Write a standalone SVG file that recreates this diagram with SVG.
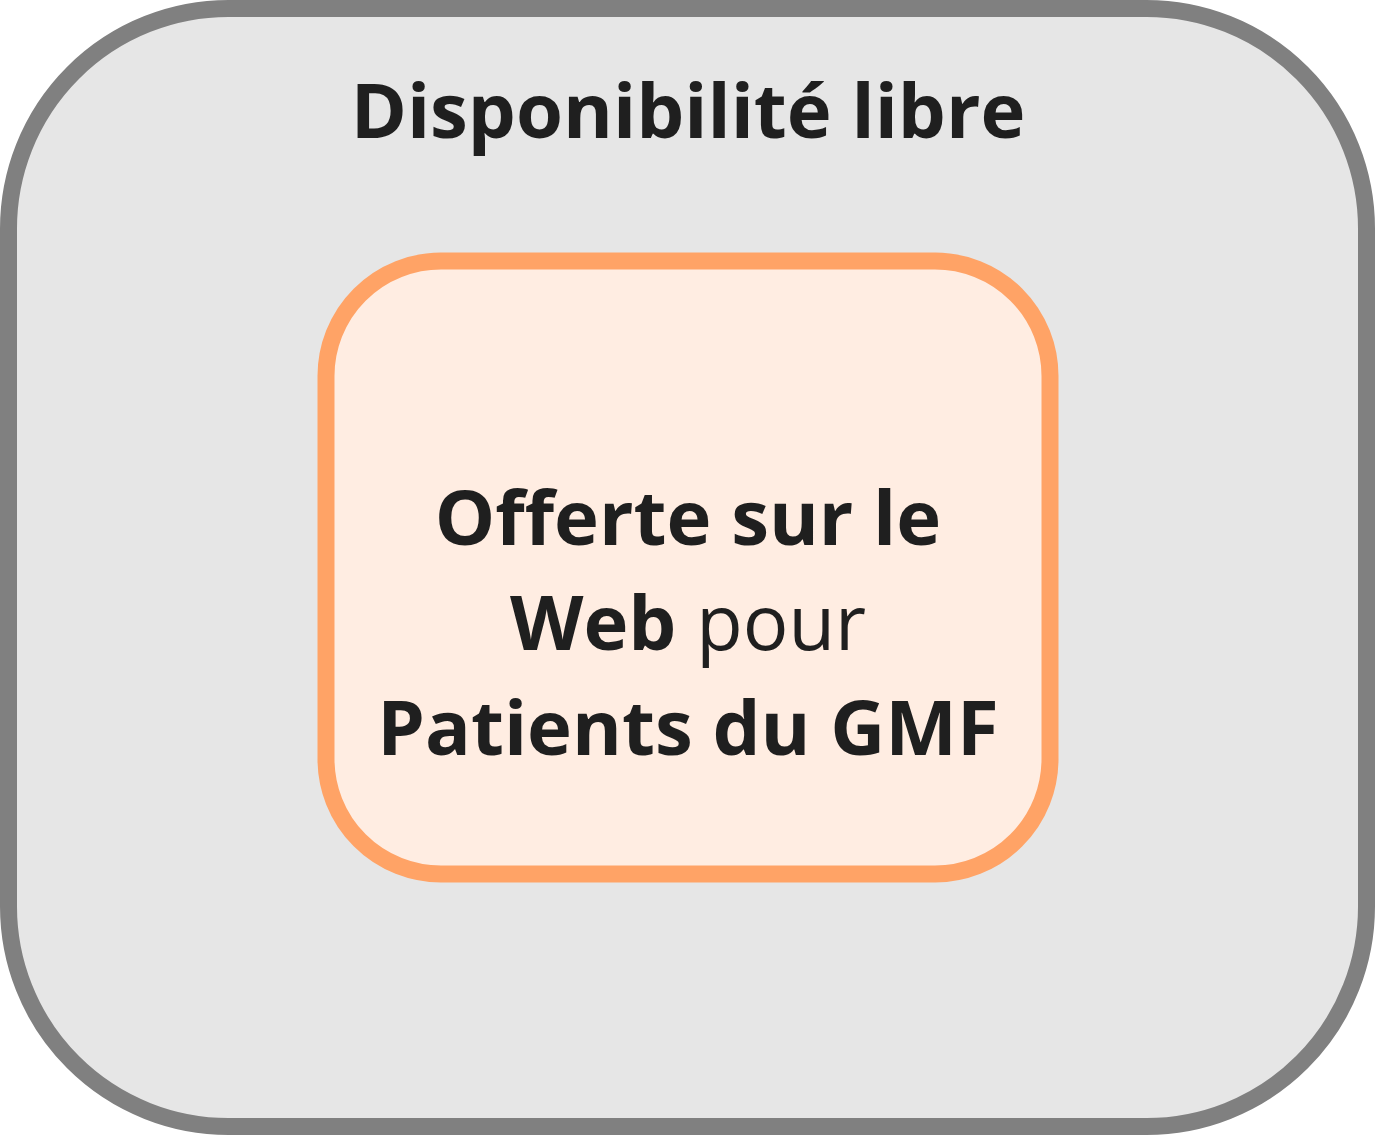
<svg xmlns="http://www.w3.org/2000/svg" width="1375" height="1135" viewBox="0 0 1375 1135">
<style>
.t{font-family:"Open Sans","Noto Sans",sans-serif;font-size:76px;fill:#1f1f1f;text-anchor:middle}
.b{font-weight:700}
.l{font-weight:400}
</style>
<g id="outer">
<rect x="8.5" y="8.5" width="1358" height="1118" rx="220" ry="220" fill="#e6e6e6" stroke="#808080" stroke-width="17"/>
<text class="t b" x="688" y="138">Disponibilité libre</text>
</g>
<g id="inner">
<rect x="326" y="261" width="724" height="613" rx="115" ry="115" fill="#ffede2" stroke="#ffa366" stroke-width="17"/>
<text class="t" x="688" y="545"><tspan class="b">Offerte sur le</tspan></text>
<text class="t" x="688" y="650"><tspan class="b">Web</tspan><tspan class="l"> pour</tspan></text>
<text class="t" x="688" y="755"><tspan class="b">Patients du GMF</tspan></text>
</g>
<g id="connectors"/>
</svg>
